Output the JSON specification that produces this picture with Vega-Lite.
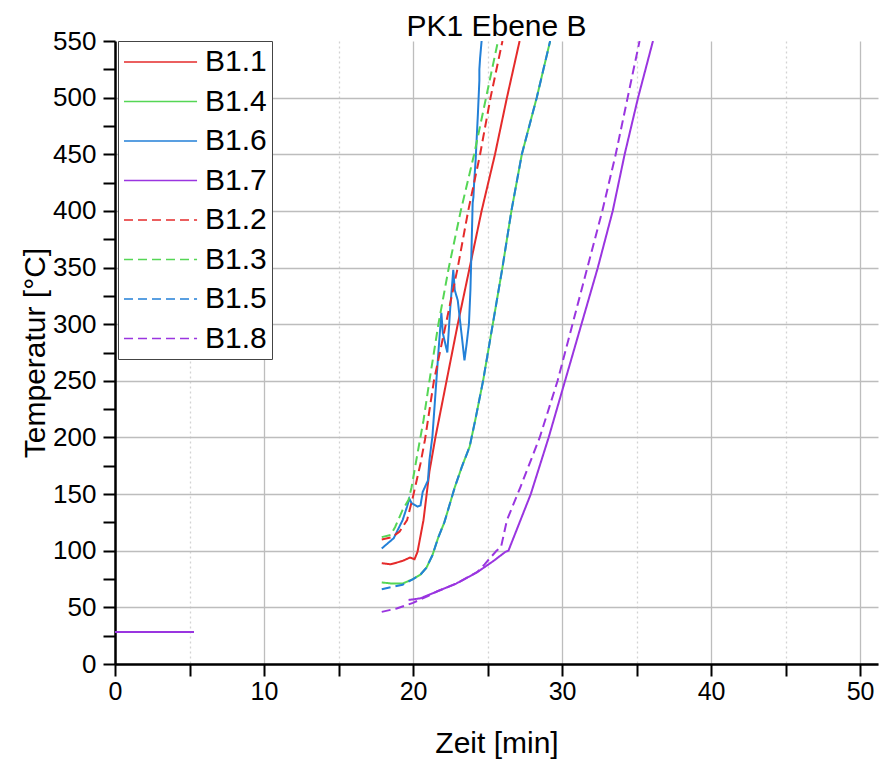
{
  "$schema": "https://vega.github.io/schema/vega-lite/v6.json",
  "width": 763,
  "height": 623,
  "autosize": {"type": "none"},
  "padding": {"left": 115, "top": 41, "right": 2, "bottom": 96},
  "background": "white",
  "title": {"text": "PK1 Ebene B", "fontSize": 30, "font": "Liberation Sans", "fontWeight": "normal", "color": "black", "offset": -14, "anchor": "middle"},
  "config": {"view": {"stroke": null}, "font": "Liberation Sans"},
  "data": {"values": [
    {"s":"B1.1","g":0,"t":0,"T":28.3},{"s":"B1.1","g":0,"t":5.3,"T":28.3},
    {"s":"B1.1","g":1,"t":17.9,"T":89},{"s":"B1.1","g":1,"t":18.5,"T":88},{"s":"B1.1","g":1,"t":19.3,"T":91},{"s":"B1.1","g":1,"t":19.8,"T":94},{"s":"B1.1","g":1,"t":20.1,"T":92.5},{"s":"B1.1","g":1,"t":20.3,"T":99},{"s":"B1.1","g":1,"t":20.7,"T":127},{"s":"B1.1","g":1,"t":21.1,"T":170},{"s":"B1.1","g":1,"t":21.5,"T":200},{"s":"B1.1","g":1,"t":22.25,"T":250},{"s":"B1.1","g":1,"t":23.0,"T":300},{"s":"B1.1","g":1,"t":23.8,"T":350},{"s":"B1.1","g":1,"t":24.6,"T":400},{"s":"B1.1","g":1,"t":25.5,"T":450},{"s":"B1.1","g":1,"t":26.3,"T":500},{"s":"B1.1","g":1,"t":27.15,"T":550},
    {"s":"B1.4","g":0,"t":0,"T":28.3},{"s":"B1.4","g":0,"t":5.3,"T":28.3},
    {"s":"B1.4","g":1,"t":17.9,"T":72},{"s":"B1.4","g":1,"t":18.6,"T":71},{"s":"B1.4","g":1,"t":19.3,"T":71},{"s":"B1.4","g":1,"t":20.0,"T":75},{"s":"B1.4","g":1,"t":20.5,"T":79},{"s":"B1.4","g":1,"t":20.9,"T":85},{"s":"B1.4","g":1,"t":21.3,"T":96},{"s":"B1.4","g":1,"t":21.7,"T":112},{"s":"B1.4","g":1,"t":22.1,"T":125},{"s":"B1.4","g":1,"t":22.8,"T":156},{"s":"B1.4","g":1,"t":23.3,"T":175},{"s":"B1.4","g":1,"t":23.8,"T":192},{"s":"B1.4","g":1,"t":24.2,"T":217},{"s":"B1.4","g":1,"t":24.7,"T":250},{"s":"B1.4","g":1,"t":25.35,"T":300},{"s":"B1.4","g":1,"t":26.0,"T":350},{"s":"B1.4","g":1,"t":26.6,"T":400},{"s":"B1.4","g":1,"t":27.3,"T":450},{"s":"B1.4","g":1,"t":28.3,"T":500},{"s":"B1.4","g":1,"t":29.2,"T":550},
    {"s":"B1.6","g":0,"t":0,"T":28.3},{"s":"B1.6","g":0,"t":5.3,"T":28.3},
    {"s":"B1.6","g":1,"t":17.9,"T":102},{"s":"B1.6","g":1,"t":18.7,"T":111},{"s":"B1.6","g":1,"t":19.3,"T":127},{"s":"B1.6","g":1,"t":19.6,"T":139},{"s":"B1.6","g":1,"t":19.75,"T":146},{"s":"B1.6","g":1,"t":19.9,"T":142},{"s":"B1.6","g":1,"t":20.3,"T":139},{"s":"B1.6","g":1,"t":20.5,"T":140},{"s":"B1.6","g":1,"t":20.65,"T":152},{"s":"B1.6","g":1,"t":21.0,"T":162},{"s":"B1.6","g":1,"t":21.1,"T":180},{"s":"B1.6","g":1,"t":21.3,"T":201},{"s":"B1.6","g":1,"t":21.7,"T":275},{"s":"B1.6","g":1,"t":21.9,"T":310},{"s":"B1.6","g":1,"t":22.0,"T":292},{"s":"B1.6","g":1,"t":22.3,"T":275},{"s":"B1.6","g":1,"t":22.5,"T":315},{"s":"B1.6","g":1,"t":22.7,"T":348},{"s":"B1.6","g":1,"t":22.8,"T":330},{"s":"B1.6","g":1,"t":23.0,"T":321},{"s":"B1.6","g":1,"t":23.3,"T":286},{"s":"B1.6","g":1,"t":23.45,"T":268},{"s":"B1.6","g":1,"t":23.6,"T":283},{"s":"B1.6","g":1,"t":23.75,"T":300},{"s":"B1.6","g":1,"t":23.85,"T":330},{"s":"B1.6","g":1,"t":23.95,"T":380},{"s":"B1.6","g":1,"t":24.0,"T":407},{"s":"B1.6","g":1,"t":24.1,"T":425},{"s":"B1.6","g":1,"t":24.05,"T":412},{"s":"B1.6","g":1,"t":24.2,"T":445},{"s":"B1.6","g":1,"t":24.35,"T":485},{"s":"B1.6","g":1,"t":24.45,"T":515},{"s":"B1.6","g":1,"t":24.5,"T":535},{"s":"B1.6","g":1,"t":24.45,"T":525},{"s":"B1.6","g":1,"t":24.6,"T":550},
    {"s":"B1.7","g":0,"t":0,"T":28.3},{"s":"B1.7","g":0,"t":5.3,"T":28.3},
    {"s":"B1.7","g":1,"t":19.7,"T":56.5},{"s":"B1.7","g":1,"t":20.5,"T":58},{"s":"B1.7","g":1,"t":21.6,"T":64},{"s":"B1.7","g":1,"t":22.9,"T":71},{"s":"B1.7","g":1,"t":24.3,"T":81},{"s":"B1.7","g":1,"t":25.4,"T":91},{"s":"B1.7","g":1,"t":26.2,"T":99},{"s":"B1.7","g":1,"t":26.4,"T":100},{"s":"B1.7","g":1,"t":27.0,"T":120},{"s":"B1.7","g":1,"t":27.9,"T":150},{"s":"B1.7","g":1,"t":29.1,"T":200},{"s":"B1.7","g":1,"t":30.2,"T":250},{"s":"B1.7","g":1,"t":31.3,"T":300},{"s":"B1.7","g":1,"t":32.4,"T":350},{"s":"B1.7","g":1,"t":33.4,"T":400},{"s":"B1.7","g":1,"t":34.2,"T":450},{"s":"B1.7","g":1,"t":35.1,"T":500},{"s":"B1.7","g":1,"t":36.1,"T":550},
    {"s":"B1.2","g":0,"t":0,"T":28.3},{"s":"B1.2","g":0,"t":5.3,"T":28.3},
    {"s":"B1.2","g":1,"t":17.9,"T":110},{"s":"B1.2","g":1,"t":18.6,"T":112},{"s":"B1.2","g":1,"t":19.1,"T":117},{"s":"B1.2","g":1,"t":19.6,"T":127},{"s":"B1.2","g":1,"t":20.0,"T":148},{"s":"B1.2","g":1,"t":20.5,"T":177},{"s":"B1.2","g":1,"t":20.8,"T":198},{"s":"B1.2","g":1,"t":21.4,"T":250},{"s":"B1.2","g":1,"t":22.2,"T":300},{"s":"B1.2","g":1,"t":23.0,"T":350},{"s":"B1.2","g":1,"t":23.7,"T":400},{"s":"B1.2","g":1,"t":24.5,"T":450},{"s":"B1.2","g":1,"t":25.2,"T":500},{"s":"B1.2","g":1,"t":26.0,"T":550},
    {"s":"B1.3","g":0,"t":0,"T":28.3},{"s":"B1.3","g":0,"t":5.3,"T":28.3},
    {"s":"B1.3","g":1,"t":17.9,"T":112},{"s":"B1.3","g":1,"t":18.5,"T":114},{"s":"B1.3","g":1,"t":18.8,"T":121},{"s":"B1.3","g":1,"t":19.3,"T":136},{"s":"B1.3","g":1,"t":19.7,"T":145},{"s":"B1.3","g":1,"t":19.9,"T":156},{"s":"B1.3","g":1,"t":20.3,"T":186},{"s":"B1.3","g":1,"t":20.7,"T":215},{"s":"B1.3","g":1,"t":21.1,"T":250},{"s":"B1.3","g":1,"t":21.7,"T":300},{"s":"B1.3","g":1,"t":22.4,"T":350},{"s":"B1.3","g":1,"t":23.2,"T":400},{"s":"B1.3","g":1,"t":24.1,"T":450},{"s":"B1.3","g":1,"t":24.9,"T":500},{"s":"B1.3","g":1,"t":25.7,"T":550},
    {"s":"B1.5","g":0,"t":0,"T":28.3},{"s":"B1.5","g":0,"t":5.3,"T":28.3},
    {"s":"B1.5","g":1,"t":17.9,"T":66},{"s":"B1.5","g":1,"t":18.6,"T":68},{"s":"B1.5","g":1,"t":19.3,"T":70},{"s":"B1.5","g":1,"t":20.0,"T":75},{"s":"B1.5","g":1,"t":20.5,"T":79},{"s":"B1.5","g":1,"t":20.9,"T":85},{"s":"B1.5","g":1,"t":21.3,"T":96},{"s":"B1.5","g":1,"t":21.7,"T":112},{"s":"B1.5","g":1,"t":22.1,"T":125},{"s":"B1.5","g":1,"t":22.8,"T":156},{"s":"B1.5","g":1,"t":23.3,"T":175},{"s":"B1.5","g":1,"t":23.8,"T":192},{"s":"B1.5","g":1,"t":24.2,"T":217},{"s":"B1.5","g":1,"t":24.7,"T":250},{"s":"B1.5","g":1,"t":25.35,"T":300},{"s":"B1.5","g":1,"t":26.0,"T":350},{"s":"B1.5","g":1,"t":26.6,"T":400},{"s":"B1.5","g":1,"t":27.3,"T":450},{"s":"B1.5","g":1,"t":28.3,"T":500},{"s":"B1.5","g":1,"t":29.2,"T":550},
    {"s":"B1.8","g":0,"t":0,"T":28.3},{"s":"B1.8","g":0,"t":5.3,"T":28.3},
    {"s":"B1.8","g":1,"t":17.9,"T":46},{"s":"B1.8","g":1,"t":18.9,"T":49},{"s":"B1.8","g":1,"t":20.0,"T":54},{"s":"B1.8","g":1,"t":21.0,"T":60},{"s":"B1.8","g":1,"t":21.6,"T":64},{"s":"B1.8","g":1,"t":22.9,"T":71},{"s":"B1.8","g":1,"t":24.3,"T":81},{"s":"B1.8","g":1,"t":24.8,"T":88},{"s":"B1.8","g":1,"t":25.6,"T":100},{"s":"B1.8","g":1,"t":25.9,"T":103},{"s":"B1.8","g":1,"t":26.3,"T":127},{"s":"B1.8","g":1,"t":27.2,"T":156},{"s":"B1.8","g":1,"t":28.5,"T":200},{"s":"B1.8","g":1,"t":29.7,"T":250},{"s":"B1.8","g":1,"t":30.7,"T":300},{"s":"B1.8","g":1,"t":31.7,"T":350},{"s":"B1.8","g":1,"t":32.7,"T":400},{"s":"B1.8","g":1,"t":33.6,"T":450},{"s":"B1.8","g":1,"t":34.4,"T":500},{"s":"B1.8","g":1,"t":35.2,"T":550}
  ]},
  "mark": {"type": "line", "strokeWidth": 2, "clip": true},
  "encoding": {
    "x": {
      "field": "t", "type": "quantitative",
      "scale": {"domain": [0, 51.2], "nice": false, "zero": false},
      "axis": {
        "values": [0,5,10,15,20,25,30,35,40,45,50],
        "labelExpr": "datum.value % 10 === 0 ? datum.label : ''",
        "title": "Zeit [min]", "titleFontSize": 30, "titleFontWeight": "normal", "titleColor": "black", "titlePadding": 24,
        "labelFontSize": 25, "labelColor": "black", "labelPadding": 3, "labelFlush": false, "labelOverlap": false,
        "domainColor": "black", "domainWidth": 2.5,
        "tickColor": "black", "tickWidth": 2, "tickSize": 12,
        "encoding": {"ticks": {"update": {"y2": {"signal": "datum.value % 10 === 0 ? 12 : 6"}}}},
        "grid": true, "gridWidth": 1.3,
        "gridColor": {"condition": {"test": "datum.value % 10 === 0", "value": "#bdbdbd"}, "value": "#d3d3d3"},
        "gridDash": {"condition": {"test": "datum.value % 10 === 0", "value": []}, "value": [2, 3]}
      }
    },
    "y": {
      "field": "T", "type": "quantitative",
      "scale": {"domain": [0, 550], "nice": false},
      "axis": {
        "values": [0,25,50,75,100,125,150,175,200,225,250,275,300,325,350,375,400,425,450,475,500,525,550],
        "labelExpr": "datum.value % 50 === 0 ? datum.label : ''",
        "title": "Temperatur [°C]", "titleFontSize": 30, "titleFontWeight": "normal", "titleColor": "black", "titlePadding": 2,
        "labelFontSize": 26, "labelColor": "black", "labelPadding": 7, "labelFlush": false, "labelOverlap": false,
        "domainColor": "black", "domainWidth": 2.5,
        "tickColor": "black", "tickWidth": 2, "tickSize": 12,
        "encoding": {"ticks": {"update": {"x2": {"signal": "datum.value % 50 === 0 ? -12 : -6"}}}},
        "grid": true, "gridWidth": 1.3, "gridColor": "#bdbdbd",
        "gridOpacity": {"condition": {"test": "datum.value % 50 === 0 && datum.value < 550", "value": 1}, "value": 0}
      }
    },
    "color": {
      "field": "s", "type": "nominal",
      "scale": {"domain": ["B1.1","B1.4","B1.6","B1.7","B1.2","B1.3","B1.5","B1.8"],
                "range": ["#e52b2b","#55d655","#2380d8","#9a35e0","#e52b2b","#55d655","#2380d8","#9a35e0"]},
      "legend": {"title": null, "orient": "none", "legendX": 3, "legendY": 0, "symbolType": "M-1,0H3.87", "symbolSize": 900, "symbolStrokeWidth": 1.6,
                 "labelFontSize": 30, "labelColor": "black", "labelOffset": 50, "rowPadding": 8.5, "padding": 5,
                 "strokeColor": "#444", "fillColor": "white", "labelLimit": 300}
    },
    "strokeDash": {
      "field": "s", "type": "nominal",
      "scale": {"domain": ["B1.1","B1.4","B1.6","B1.7","B1.2","B1.3","B1.5","B1.8"],
                "range": [[1,0],[1,0],[1,0],[1,0],[9,5],[9,5],[9,5],[9,5]]},
      "legend": {"title": null, "orient": "none", "legendX": 3, "legendY": 0, "symbolType": "M-1,0H3.87", "symbolSize": 900, "symbolStrokeWidth": 1.6,
                 "labelFontSize": 30, "labelColor": "black", "labelOffset": 50, "rowPadding": 8.5, "padding": 5,
                 "strokeColor": "#444", "fillColor": "white", "labelLimit": 300}
    },
    "detail": {"field": "g", "type": "nominal"}
  }
}
